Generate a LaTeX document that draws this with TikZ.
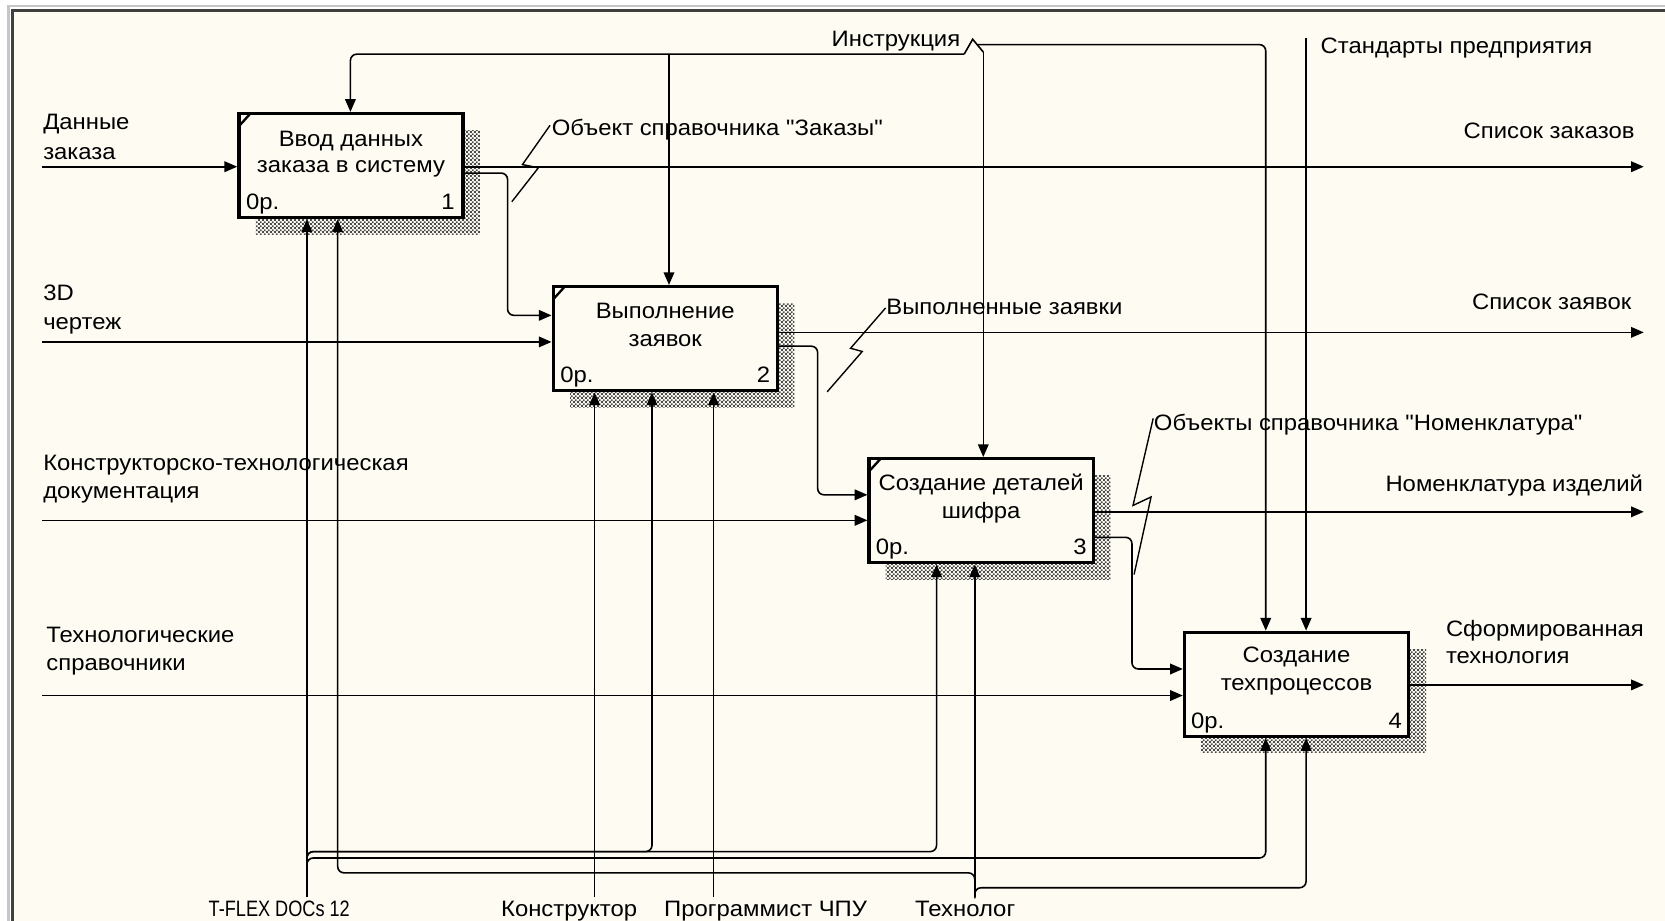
\documentclass[tikz,border=0pt]{standalone}
\usepackage{graphicx}
\usepackage{fontspec}
\setmainfont{Liberation Sans}[Ligatures=TeXOff,FakeStretch=1.07]
\usetikzlibrary{arrows.meta,patterns}
\definecolor{bg}{RGB}{253,251,242}
\pgfdeclarepatternformonly{shdots}{\pgfpointorigin}{\pgfpoint{2pt}{2pt}}{\pgfpoint{2pt}{2pt}}{%
  \pgfpathrectangle{\pgfpointorigin}{\pgfpoint{1pt}{1pt}}%
  \pgfpathrectangle{\pgfpoint{1pt}{1pt}}{\pgfpoint{1pt}{1pt}}%
  \pgfusepath{fill}}
\begin{document}
\begin{tikzpicture}[x=0.5pt,y=-0.5pt,line width=0.75pt,
  font=\fontsize{10.5}{13.5}\selectfont,
  box/.style={draw,line width=1.6pt,fill=bg,minimum width=105.5pt,minimum height=49pt,inner sep=0pt},
  shade/.style={pattern=shdots,pattern color=black!70},
  arr/.style={-{Triangle[length=6pt,width=5pt]}},
  rc/.style={rounded corners=3pt},
  lbl/.style={inner sep=0pt,anchor=base west},
  lblr/.style={inner sep=0pt,anchor=base east},
  lblc/.style={inner sep=0pt,anchor=base},
  cmark/.style={line width=1.1pt},
  sq/.style={line width=0.65pt}]
\useasboundingbox (0,0) rectangle (1568,867);
\fill[white] (0,0) rectangle (1568,867);
\fill[bg] (12,10) rectangle (1568,867);
\draw[gray!45,line width=1pt] (8,867) -- (8,6) -- (1568,6);
\draw[black!75,line width=1.3pt] (12,867) -- (12,10) -- (1568,10);

% shadows
\fill[shade] (241,123) rectangle (452,221);
\fill[shade] (537,286) rectangle (748,384);
\fill[shade] (834,448) rectangle (1046,546);
\fill[shade] (1131,612) rectangle (1343,709);

% boxes
\node[box] (b1) at (330.5,156) {};
\node[box] (b2) at (626.5,319) {};
\node[box] (b3) at (924,481) {};
\node[box] (b4) at (1221,644.5) {};
\draw[cmark] (b1.north west) ++(2,13) -- ++(10,-11);
\draw[cmark] (b2.north west) ++(2,13) -- ++(10,-11);
\draw[cmark] (b3.north west) ++(2,13) -- ++(10,-11);

% box texts
\node[lblc] (t1a) at (330.5,138) {Ввод данных};
\node[lblc] (t1b) at (330.5,162) {заказа в систему};
\node[lblc] (t2a) at (626.5,300) {Выполнение};
\node[lblc] (t2b) at (626.5,326) {заявок};
\node[lblc] (t3a) at (924,462) {Создание деталей};
\node[lblc] (t3b) at (924,488) {шифра};
\node[lblc] (t4a) at (1221,624) {Создание};
\node[lblc] (t4b) at (1221,650) {техпроцессов};
\node[lbl] (n1) at (231,197) {0р.};  \node[lblr] (m1) at (429,197) {1};
\node[lbl] (n2) at (527,360) {0р.};  \node[lblr] (m2) at (726,360) {2};
\node[lbl] (n3) at (824,522) {0р.};  \node[lblr] (m3) at (1024,522) {3};
\node[lbl] (n4) at (1121,686) {0р.}; \node[lblr] (m4) at (1321,686) {4};

% inputs
\coordinate (i1) at (40,157);
\coordinate (i2) at (40,322);
\coordinate (i3) at (40,490);
\coordinate (i4) at (40,655);
\draw[arr] (i1) -- (i1 -| b1.west);
\draw[arr] (i2) -- (i2 -| b2.west);
\draw[arr] (i3) -- (i3 -| b3.west);
\draw[arr] (i4) -- (i4 -| b4.west);

% outputs
\coordinate (o1) at (1548,157);
\coordinate (o2) at (1548,313);
\coordinate (o3) at (1548,482);
\coordinate (o4) at (1548,645);
\draw[arr] (o1 -| b1.east) -- (o1);
\draw[arr] (o2 -| b2.east) -- (o2);
\draw[arr] (o3 -| b3.east) -- (o3);
\draw[arr] (o4 -| b4.east) -- (o4);

% box to box
\coordinate (k1) at (478,163); \coordinate (k2) at (478,297);
\draw[arr,rc] (k1 -| b1.east) -- (k1) -- (k2) -- (k2 -| b2.west);
\coordinate (k3) at (770,326); \coordinate (k4) at (770,466);
\draw[arr,rc] (k3 -| b2.east) -- (k3) -- (k4) -- (k4 -| b3.west);
\coordinate (k5) at (1066,506); \coordinate (k6) at (1066,630);
\draw[arr,rc] (k5 -| b3.east) -- (k5) -- (k6) -- (k6 -| b4.west);

% controls
\coordinate (c1) at (330,51);
\coordinate (c2) at (630,51);
\coordinate (c3) at (926,49);
\coordinate (c4) at (1192,42);
\coordinate (c5) at (1230,36);
\draw[arr,rc] (908,51) -- (c1) -- (c1 |- b1.north);
\draw[arr] (c2) -- (c2 |- b2.north);
\draw (908,51) -- (916,37) -- (c3);
\draw[arr] (c3) -- (c3 |- b3.north);
\draw[arr,rc] (921,42) -- (c4) -- (c4 |- b4.north);
\draw[arr] (c5) -- (c5 |- b4.north);

% mechanisms
\coordinate (mT) at (289,845);
\coordinate (mK) at (560,845);
\coordinate (mP) at (672,845);
\coordinate (mG) at (918,845);
\draw[arr] (mT) -- (mT |- b1.south);
\draw[arr] (mK) -- (mK |- b2.south);
\draw[arr] (mP) -- (mP |- b2.south);
\draw[arr] (mG) -- (mG |- b3.south);
\coordinate (h1) at (614,802);
\coordinate (h2) at (882,802);
\coordinate (h3) at (1192,808);
\draw[arr,rc] (289,814) -- (289,802) -- (h1) -- (h1 |- b2.south);
\draw[arr,rc] (289,814) -- (289,802) -- (h2) -- (h2 |- b3.south);
\draw[arr,rc] (289,820) -- (289,808) -- (h3) -- (h3 |- b4.south);
\coordinate (g1) at (318,822);
\coordinate (g2) at (1230,836);
\draw[arr,rc] (918,834) -- (918,822) -- (g1) -- (g1 |- b1.south);
\draw[arr,rc] (918,846) -- (918,836) -- (g2) -- (g2 |- b4.south);

% squiggles
\draw[sq] (518,118) -- (492,155) -- (507,158) -- (482,190);
\draw[sq] (834,290) -- (801,328) -- (812,331) -- (779,369);
\draw[sq] (1086,394) -- (1067,476) -- (1084,468) -- (1068,541);

% labels
\node[lbl] (L1a) at (40,122) {Данные};
\node[lbl] (L1b) at (40,150) {заказа};
\node[lbl] (L2a) at (40,283) {3D};
\node[lbl] (L2b) at (40,310) {чертеж};
\node[lbl] (L3a) at (40,443) {Конструкторско-технологическая};
\node[lbl] (L3b) at (40,469) {документация};
\node[lbl] (L4a) at (43,605) {Технологические};
\node[lbl] (L4b) at (43,631) {справочники};
\node[lblr] (R1) at (1540,130) {Список заказов};
\node[lblr] (R2) at (1537,291) {Список заявок};
\node[lblr] (R3) at (1548,463) {Номенклатура изделий};
\node[lbl] (R4a) at (1361,599) {Сформированная};
\node[lbl] (R4b) at (1361,625) {технология};
\node[lblr] (T1) at (905,44) {Инструкция};
\node[lbl] (T2) at (1243,50) {Стандарты предприятия};
\node[lbl] (S1) at (519,128) {Объект справочника "Заказы"};
\node[lbl] (S2) at (834,296) {Выполненные заявки};
\node[lbl] (S3) at (1086,405) {Объекты справочника "Номенклатура"};
\node[lblc] (B1) at (263,863) {\scalebox{0.76}[1]{T-FLEX DOCs 12}};
\node[lblc] (B2) at (536,863) {Конструктор};
\node[lblc] (B3) at (721,863) {Программист ЧПУ};
\node[lblc] (B4) at (909,863) {Технолог};
\end{tikzpicture}
\end{document}
